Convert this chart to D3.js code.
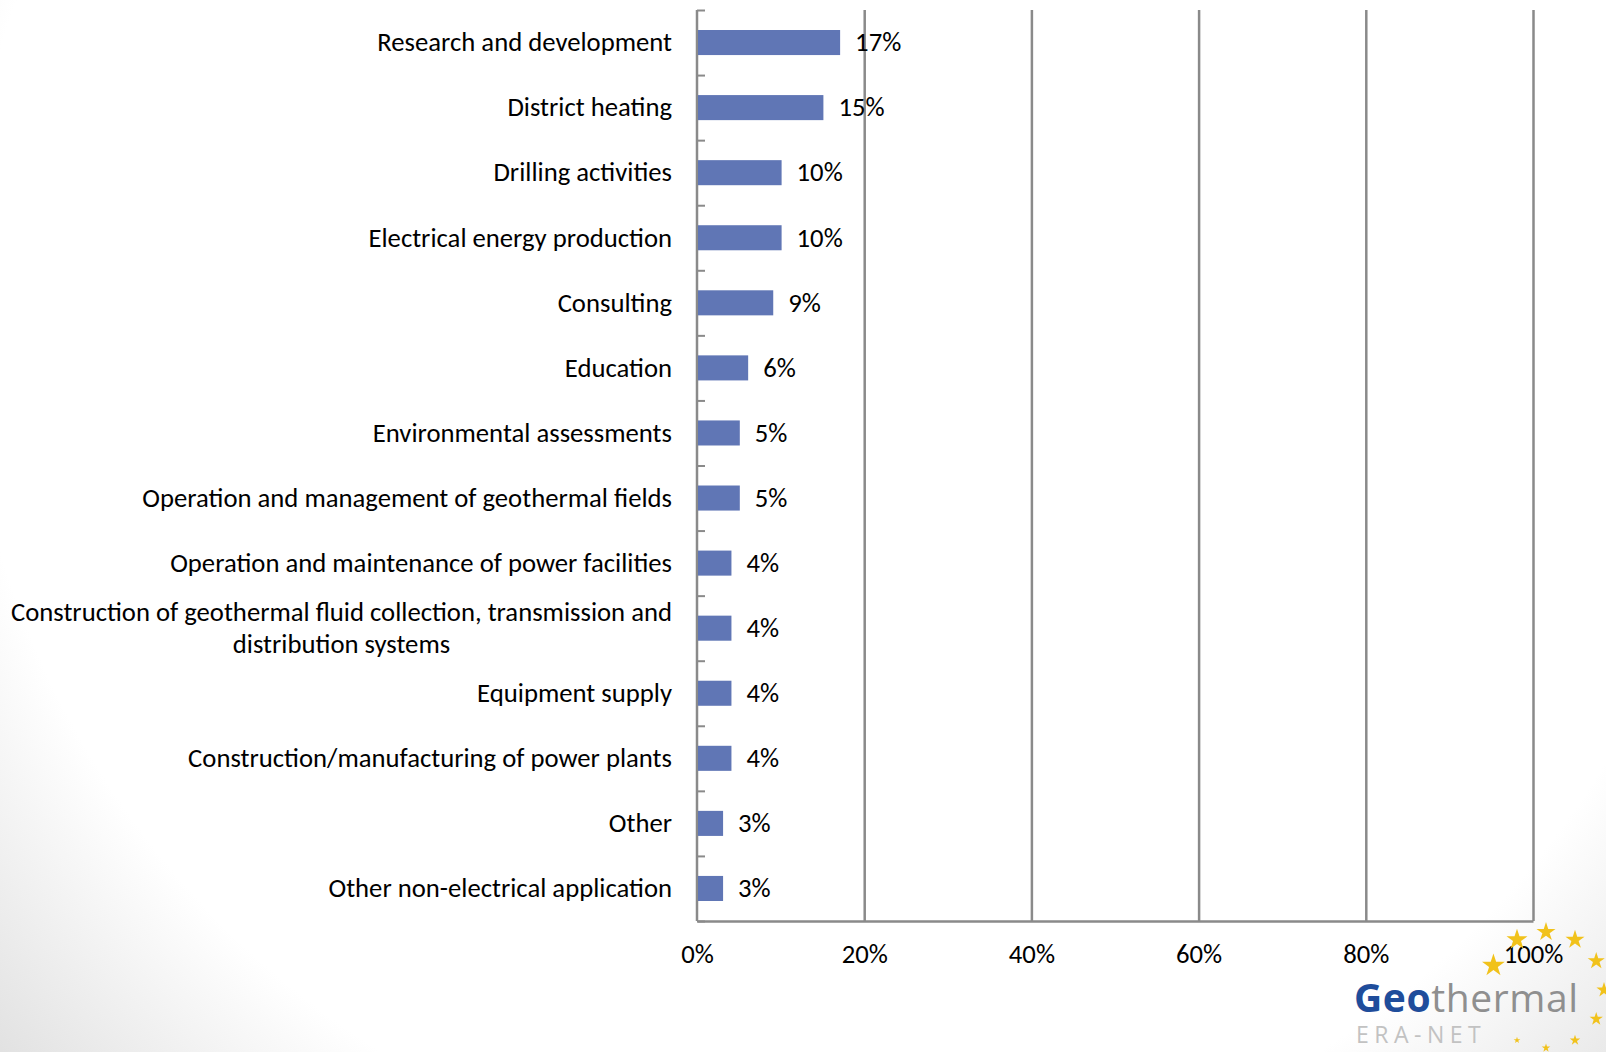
<!DOCTYPE html>
<html>
<head>
<meta charset="utf-8">
<script src="https://cdn.jsdelivr.net/npm/d3@7"></script>
<style>
  html, body { margin: 0; padding: 0; background: #fff; }
  svg { display: block; }
  .lbl { font-family: Carlito, "Open Sans", Lato, sans-serif; font-size: 26.7px; fill: #000; }
</style>
</head>
<body>
<svg id="chart" width="1606" height="1052"></svg>
<script>
// Share of respondents by field of activity
const categories = [
  "Research and development",
  "District heating",
  "Drilling activities",
  "Electrical energy production",
  "Consulting",
  "Education",
  "Environmental assessments",
  "Operation and management of geothermal fields",
  "Operation and maintenance of power facilities",
  "Construction of geothermal fluid collection, transmission and\ndistribution systems",
  "Equipment supply",
  "Construction/manufacturing of power plants",
  "Other",
  "Other non-electrical application"
];
const shares = [0.17, 0.15, 0.10, 0.10, 0.09, 0.06, 0.05, 0.05, 0.04, 0.04, 0.04, 0.04, 0.03, 0.03];
const xTicks = [0, 0.2, 0.4, 0.6, 0.8, 1.0];

const W = 1606, H = 1052;
const margin = { left: 697, right: 73, top: 10, bottom: 131 };
const innerW = W - margin.left - margin.right;
const innerH = H - margin.top - margin.bottom;

const svg = d3.select("#chart");

// slide background: white centre fading to light grey towards the corners
const defs = svg.append("defs");
const bg = defs.append("radialGradient")
  .attr("id", "bgGrad").attr("gradientUnits", "userSpaceOnUse")
  .attr("cx", 850).attr("cy", 300).attr("r", 1150);
bg.append("stop").attr("offset", 0.77).attr("stop-color", "#ffffff");
bg.append("stop").attr("offset", 1).attr("stop-color", "#e0e0e0");
svg.append("rect").attr("width", W).attr("height", H).attr("fill", "url(#bgGrad)");

const g = svg.append("g").attr("transform", `translate(${margin.left},${margin.top})`);

const x = d3.scaleLinear().domain([0, 1]).range([0, innerW]);
const y = d3.scaleBand().domain(categories).range([0, innerH])
  .paddingInner(0.615).paddingOuter(0.3075);
const yIdx = d3.scaleLinear().domain([0, categories.length]).range([0, innerH]);

const fmt = d3.format(".0%");
const gridColor = "#8a8a8a";

// vertical gridlines
const gx = g.append("g")
  .call(d3.axisTop(x).tickValues(xTicks.slice(1)).tickSize(-innerH).tickFormat(""));
gx.select(".domain").remove();
gx.selectAll(".tick line").attr("stroke", gridColor).attr("stroke-width", 2.5);

// bottom axis line + tick labels
const gb = g.append("g").attr("transform", `translate(0,${innerH})`)
  .call(d3.axisBottom(x).tickValues(xTicks).tickSize(0).tickPadding(23).tickFormat(fmt));
gb.select(".domain").attr("stroke", gridColor).attr("stroke-width", 2.5);
gb.selectAll(".tick text").attr("class", "lbl").attr("font-size", null).attr("font-family", null)
  .attr("fill", "#000").attr("dy", "0.71em");

// category axis line with boundary ticks on the plot side
const gl = g.append("g")
  .call(d3.axisRight(yIdx).tickValues(d3.range(0, categories.length + 1)).tickSize(8).tickFormat(""));
gl.select(".domain").attr("stroke", gridColor).attr("stroke-width", 2.5).attr("d", `M0,0V${innerH}`);
gl.selectAll(".tick line").attr("stroke", gridColor).attr("stroke-width", 2);

const rows = categories.map((c, i) => ({ c, v: shares[i] }));

// bars
g.append("g").selectAll("rect")
  .data(rows)
  .join("rect")
  .attr("x", x(0) + 1)
  .attr("y", d => y(d.c))
  .attr("width", d => x(d.v) - x(0))
  .attr("height", y.bandwidth())
  .attr("fill", "#6076b5");

// value labels
g.append("g").selectAll("text")
  .data(rows)
  .join("text")
  .attr("class", "lbl")
  .attr("x", d => x(d.v) + 16)
  .attr("y", d => y(d.c) + y.bandwidth() / 2)
  .attr("dy", "0.33em")
  .text(d => fmt(d.v));

// category labels (multi-line labels centred within a right-aligned block)
const labelRight = -25;
const lineH = 32;
const catG = g.append("g");
categories.forEach(c => {
  const lines = c.split("\n");
  const cy = y(c) + y.bandwidth() / 2;
  const t = catG.append("text").attr("class", "lbl");
  lines.forEach((ln, i) => {
    t.append("tspan").text(ln)
      .attr("y", cy + (i - (lines.length - 1) / 2) * lineH)
      .attr("dy", "0.33em");
  });
  if (lines.length === 1) {
    t.attr("text-anchor", "end").selectAll("tspan").attr("x", labelRight);
  } else {
    const widths = t.selectAll("tspan").nodes().map(s => s.getComputedTextLength());
    const blockW = d3.max(widths);
    t.attr("text-anchor", "middle").selectAll("tspan").attr("x", labelRight - blockW / 2);
  }
});

// Geothermal ERA-NET logo
const logo = svg.append("g");
const starCenter = [1546, 990], starR = 58;
const starAngles = [0, 30, 60, 90, 120, 150, 180, 210, 295, 330];
const starRadii  = [10, 10, 9, 8, 7, 5.5, 4.5, 3.5, 12, 11];
logo.selectAll("path.star")
  .data(starAngles.map((a, i) => ({ a, r: starRadii[i] })))
  .join("path")
  .attr("class", "star")
  .attr("d", d => d3.symbol(d3.symbolStar, d.r * d.r / 0.8908)())
  .attr("transform", d => {
    const rad = d.a * Math.PI / 180;
    return `translate(${starCenter[0] + starR * Math.sin(rad)},${starCenter[1] - starR * Math.cos(rad)})`;
  })
  .attr("fill", "#f1c21b");

const geo = logo.append("text")
  .attr("x", 1354).attr("y", 1012)
  .attr("font-family", "'Open Sans', 'Noto Sans', sans-serif")
  .attr("font-size", 39).attr("letter-spacing", 0.6);
geo.append("tspan").text("Geo").attr("fill", "#1f4d9b").attr("font-weight", 700);
geo.append("tspan").text("thermal").attr("fill", "#8f8f8f");

logo.append("text")
  .attr("x", 1356).attr("y", 1043)
  .attr("font-family", "'Open Sans', 'Noto Sans', sans-serif")
  .attr("font-size", 23).attr("letter-spacing", 5.5)
  .attr("fill", "#c2c2c2")
  .text("ERA-NET");
</script>
</body>
</html>
